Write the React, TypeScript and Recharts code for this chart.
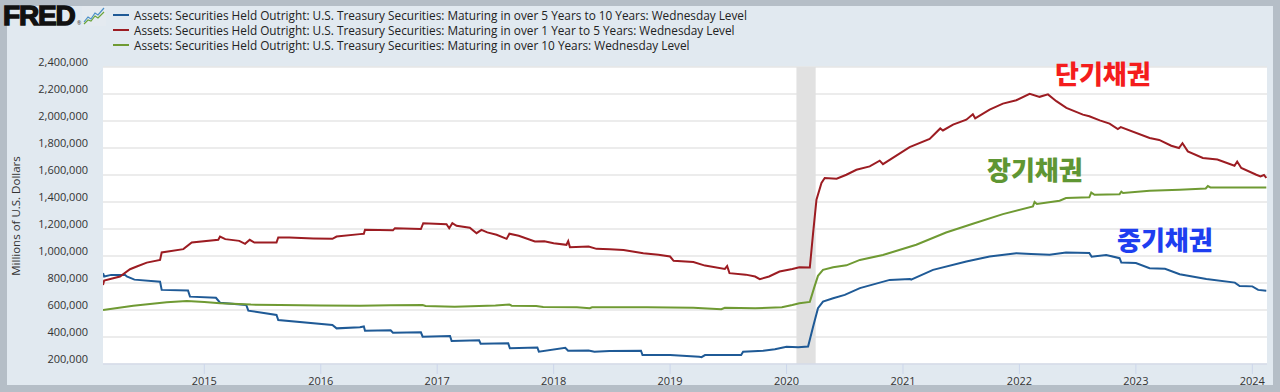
import React from "react";
import {
  CartesianGrid,
  Line,
  LineChart,
  ReferenceArea,
  XAxis,
  YAxis,
} from "recharts";

// values: [decimal year, millions of dollars / 1000]
const over5to10: [number, number][] = [
  [2014.13, 873], [2014.14, 848], [2014.2, 860], [2014.32, 860], [2014.334, 848],
  [2014.4, 825], [2014.62, 810], [2014.634, 749], [2014.86, 745], [2014.877, 699],
  [2015.1, 690], [2015.135, 654], [2015.36, 637], [2015.378, 595], [2015.62, 563],
  [2015.635, 526], [2016.1, 489], [2016.136, 464], [2016.336, 473], [2016.37, 478],
  [2016.38, 447], [2016.6, 450], [2016.62, 432], [2016.86, 435], [2016.875, 402],
  [2017.11, 407], [2017.124, 370], [2017.36, 376], [2017.373, 350], [2017.61, 353],
  [2017.624, 316], [2017.86, 322], [2017.873, 291], [2018.1, 320], [2018.124, 298],
  [2018.3, 300], [2018.35, 291], [2018.48, 296], [2018.75, 298], [2018.763, 266],
  [2019.0, 266], [2019.25, 254], [2019.27, 251], [2019.3, 266], [2019.61, 266],
  [2019.627, 291], [2019.8, 298], [2019.9, 310], [2020.0, 328], [2020.1, 325],
  [2020.185, 330], [2020.228, 476], [2020.27, 613], [2020.313, 662], [2020.4, 687],
  [2020.5, 712], [2020.63, 762], [2020.886, 823], [2021.06, 830], [2021.07, 825],
  [2021.258, 897], [2021.544, 959], [2021.744, 996], [2021.973, 1021], [2022.1, 1015],
  [2022.259, 1010], [2022.4, 1026], [2022.6, 1022], [2022.62, 995], [2022.745, 1008],
  [2022.86, 984], [2022.875, 951], [2023.0, 948], [2023.118, 910], [2023.25, 905],
  [2023.376, 865], [2023.605, 830], [2023.85, 803], [2023.891, 778], [2024.0, 775],
  [2024.05, 749], [2024.12, 743],
];

const over1to5: [number, number][] = [
  [2014.13, 786], [2014.14, 818], [2014.276, 848], [2014.362, 902], [2014.42, 922],
  [2014.506, 951], [2014.62, 971], [2014.634, 1026], [2014.82, 1051], [2014.892, 1100],
  [2015.12, 1120], [2015.135, 1144], [2015.18, 1125], [2015.3, 1112], [2015.35, 1090],
  [2015.39, 1120], [2015.43, 1100], [2015.62, 1100], [2015.635, 1137], [2015.73, 1137],
  [2015.936, 1130], [2016.1, 1127], [2016.136, 1144], [2016.336, 1162], [2016.37, 1165],
  [2016.38, 1194], [2016.62, 1190], [2016.637, 1206], [2016.86, 1200], [2016.88, 1243],
  [2017.08, 1235], [2017.103, 1206], [2017.13, 1243], [2017.166, 1224], [2017.28, 1210],
  [2017.338, 1169], [2017.38, 1194], [2017.43, 1175], [2017.51, 1157], [2017.596, 1127],
  [2017.62, 1165], [2017.7, 1150], [2017.839, 1107], [2017.92, 1110], [2018.0, 1095],
  [2018.11, 1083], [2018.125, 1110], [2018.14, 1065], [2018.3, 1070], [2018.368, 1053],
  [2018.483, 1050], [2018.6, 1045], [2018.77, 1021], [2018.9, 1010], [2019.0, 996],
  [2019.03, 964], [2019.2, 955], [2019.3, 929], [2019.47, 904], [2019.49, 925],
  [2019.51, 873], [2019.65, 862], [2019.73, 848], [2019.77, 828], [2019.85, 848],
  [2019.94, 885], [2020.05, 904], [2020.11, 917], [2020.2, 915], [2020.228, 1169],
  [2020.257, 1417], [2020.3, 1541], [2020.328, 1578], [2020.43, 1573], [2020.514, 1602],
  [2020.6, 1639], [2020.714, 1664], [2020.8, 1706], [2020.828, 1680], [2021.057, 1807],
  [2021.229, 1867], [2021.32, 1945], [2021.343, 1930], [2021.43, 1973], [2021.544, 2010],
  [2021.6, 2050], [2021.62, 2020], [2021.744, 2085], [2021.858, 2129], [2021.973, 2154],
  [2022.088, 2201], [2022.173, 2179], [2022.245, 2197], [2022.317, 2147], [2022.403, 2097],
  [2022.545, 2047], [2022.6, 2035], [2022.69, 2005], [2022.774, 1981], [2022.845, 1941],
  [2022.87, 1955], [2023.118, 1874], [2023.2, 1860], [2023.304, 1817], [2023.37, 1800],
  [2023.4, 1835], [2023.446, 1775], [2023.575, 1726], [2023.7, 1715], [2023.847, 1669],
  [2023.87, 1700], [2023.905, 1652], [2024.034, 1602], [2024.07, 1590], [2024.1, 1600],
  [2024.12, 1578],
];

const over10: [number, number][] = [
  [2014.13, 600], [2014.39, 632], [2014.677, 657], [2014.85, 667], [2015.0, 660],
  [2015.135, 650], [2015.4, 640], [2015.65, 637], [2016.0, 633], [2016.336, 632],
  [2016.6, 635], [2016.875, 637], [2016.9, 630], [2017.15, 625], [2017.5, 633],
  [2017.62, 640], [2017.64, 632], [2017.85, 630], [2017.91, 622], [2018.2, 620],
  [2018.31, 613], [2018.33, 620], [2018.5, 620], [2018.8, 620], [2019.2, 617],
  [2019.44, 606], [2019.47, 617], [2019.73, 613], [2019.96, 620], [2020.05, 637],
  [2020.11, 650], [2020.2, 660], [2020.24, 773], [2020.27, 853], [2020.313, 897],
  [2020.4, 917], [2020.514, 931], [2020.63, 971], [2020.828, 1008], [2021.114, 1083],
  [2021.37, 1174], [2021.6, 1239], [2021.858, 1310], [2022.116, 1367], [2022.13, 1400],
  [2022.15, 1385], [2022.345, 1409], [2022.4, 1429], [2022.6, 1435], [2022.617, 1470],
  [2022.645, 1454], [2022.86, 1458], [2022.875, 1476], [2022.89, 1466], [2023.118, 1483],
  [2023.376, 1491], [2023.6, 1500], [2023.618, 1518], [2023.64, 1508], [2024.12, 1508],
];

const seriesNames = [
  "Assets: Securities Held Outright: U.S. Treasury Securities: Maturing in over 5 Years to 10 Years: Wednesday Level",
  "Assets: Securities Held Outright: U.S. Treasury Securities: Maturing in over 1 Year to 5 Years: Wednesday Level",
  "Assets: Securities Held Outright: U.S. Treasury Securities: Maturing in over 10 Years: Wednesday Level",
];
const seriesColors = ["#1f5a96", "#9c1c22", "#6f9a33"];

const yTicks = [200000, 400000, 600000, 800000, 1000000, 1200000, 1400000, 1600000, 1800000, 2000000, 2200000, 2400000];
const xTicks = [2015, 2016, 2017, 2018, 2019, 2020, 2021, 2022, 2023, 2024];
const recession: [number, number] = [2020.085, 2020.25];

const notes = [
  { text: "단기채권", color: "#f41d1d", left: 1055, top: 58 },
  { text: "장기채권", color: "#5f9633", left: 987, top: 154 },
  { text: "중기채권", color: "#1e3ef0", left: 1117, top: 224 },
];

const toRows = (pts: [number, number][]) => pts.map(([t, v]) => ({ t, v: v * 1000 }));

const font = "'Open Sans', 'Noto Sans', sans-serif";

function YTick(props: any) {
  const { y, payload } = props;
  return (
    <text x={88} y={y - 5.5} textAnchor="end" dominantBaseline="central" fontSize={11} fill="#333" fontFamily={font}>
      {payload.value.toLocaleString("en-US")}
    </text>
  );
}

function XTick(props: any) {
  const { x, payload } = props;
  return (
    <text x={x} y={380} textAnchor="middle" dominantBaseline="central" fontSize={11} fill="#333" fontFamily={font}>
      {payload.value}
    </text>
  );
}

export default function App() {
  const data = [toRows(over5to10), toRows(over1to5), toRows(over10)];
  return (
    <div style={{ position: "absolute", left: 0, top: 0, width: 1280, height: 392, background: "#b5bec7", overflow: "hidden" }}>
      <div style={{ position: "absolute", left: 7, top: 6, width: 1266, height: 379, background: "#e1e9f0" }} />

      {/* FRED logo */}
      <svg style={{ position: "absolute", left: 0, top: 0 }} width={110} height={30}>
        <text x={3} y={25} fontFamily="'Liberation Sans', Arial, sans-serif" fontWeight={900} fontSize={28} letterSpacing={-1.2} fill="#111" stroke="#111" strokeWidth={1.4}>
          FRED
        </text>
        <text x={77} y={25} fontSize={5} fill="#333" fontFamily={font}>®</text>
        <rect x={82} y={6} width={24} height={20} fill="#e4eaf0" />
        <polyline points="84,22 88,17 91,19 95,13 98,15 104,8" fill="none" stroke="#4a8fc7" strokeWidth={1.2} />
        <polyline points="84,24 88,20 91,21 95,16 98,18 104,12" fill="none" stroke="#6aa43a" strokeWidth={1.2} />
      </svg>

      {/* legend */}
      {seriesNames.map((name, i) => (
        <div key={name} style={{ position: "absolute", left: 113, top: 7 + i * 15, height: 15, display: "flex", alignItems: "center" }}>
          <div style={{ width: 16, height: 2, background: seriesColors[i], marginRight: 5 }} />
          <span style={{ fontFamily: font, fontSize: 11.8, color: "#222", whiteSpace: "nowrap" }}>{name}</span>
        </div>
      ))}

      <div
        style={{
          position: "absolute", left: 15, top: 216, transform: "translate(-50%, -50%) rotate(-90deg)",
          fontFamily: font, fontSize: 11.5, color: "#333", whiteSpace: "nowrap",
        }}
      >
        Millions of U.S. Dollars
      </div>

      <div style={{ position: "absolute", left: 0, top: 0 }}>
        <LineChart width={1280} height={392} margin={{ top: 67, right: 13, bottom: 0, left: 0 }}>
          <CartesianGrid vertical={false} stroke="#e6e6e6" strokeWidth={1.5} fill="#ffffff" />
          <ReferenceArea x1={recession[0]} x2={recession[1]} fill="#e1e1e1" fillOpacity={1} stroke="none" />
          <XAxis
            type="number"
            dataKey="t"
            domain={[2014.13, 2024.126]}
            ticks={xTicks}
            allowDataOverflow
            height={28}
            tick={<XTick />}
            tickSize={10}
            axisLine={{ stroke: "#ccd6eb" }}
            tickLine={{ stroke: "#ccd6eb" }}
          />
          <YAxis
            type="number"
            domain={[200000, 2400000]}
            ticks={yTicks}
            width={103}
            tick={<YTick />}
            axisLine={false}
            tickLine={false}
            allowDataOverflow
          />
          {data.map((rows, i) => (
            <Line
              key={seriesNames[i]}
              data={rows}
              dataKey="v"
              name={seriesNames[i]}
              type="linear"
              stroke={seriesColors[i]}
              strokeWidth={2}
              dot={false}
              isAnimationActive={false}
            />
          ))}
        </LineChart>
      </div>

      {notes.map((n) => (
        <div
          key={n.text}
          style={{
            position: "absolute", left: n.left, top: n.top, fontFamily: "'Noto Sans CJK KR', sans-serif",
            fontWeight: 900, fontSize: 26, lineHeight: "30px", color: n.color, whiteSpace: "nowrap",
          }}
        >
          {n.text}
        </div>
      ))}
    </div>
  );
}
